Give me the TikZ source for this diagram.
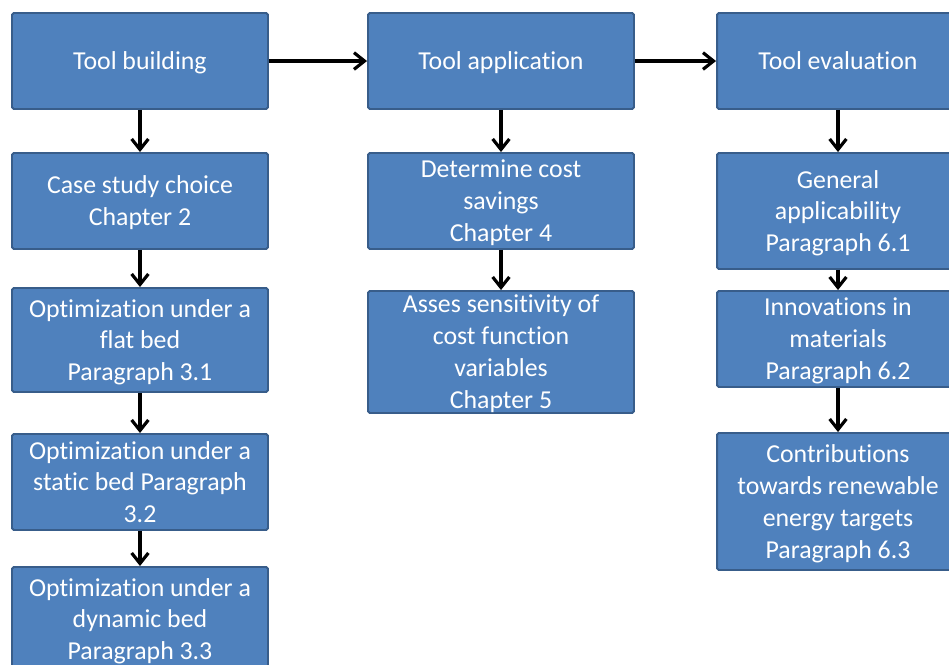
\documentclass[tikz,border=0pt]{standalone}
\usepackage{fontspec}
\setmainfont{Carlito}[Ligatures=NoCommon]
\usetikzlibrary{arrows.meta}

\definecolor{boxfill}{HTML}{4F81BD}
\definecolor{boxline}{HTML}{385D8A}

\begin{document}
\begin{tikzpicture}[x=0.02cm, y=-0.02cm,
      blk/.style={draw=boxline, fill=boxfill, line width=1.1pt, rounded corners=1pt,
                  text=white, align=center, inner sep=0pt, text depth=0pt,
                  font=\fontsize{14.7}{18.2}\selectfont},
      arr/.style={-{Straight Barb[length=6pt,width=9.5pt]}, line width=1.8pt, black}]

    % ---- Layout (pixel grid) ----
    \def\cA{140}   % column 1 x
    \def\cB{501}   % column 2 x
    \def\cC{838}   % column 3 x
    \clip (0,0) rectangle (949,664);

    % ---- Top row ----
    \node[blk, minimum width=5.12cm, minimum height=1.92cm] (tb) at (\cA, 61) {Tool building};
    \node[blk, minimum width=5.32cm, minimum height=1.92cm] (ta) at (\cB, 61) {Tool application};
    \node[blk, minimum width=4.84cm, minimum height=1.92cm] (te) at (\cC, 61) {Tool evaluation};

    % ---- Column 1: building ----
    \node[blk, minimum width=5.12cm, minimum height=1.92cm] (cs) at (\cA, 201) {Case study choice\\Chapter 2};
    \node[blk, minimum width=5.12cm, minimum height=2.08cm] (of) at (\cA, 340) {Optimization under a\\flat bed\\Paragraph 3.1};
    \node[blk, minimum width=5.12cm, minimum height=1.92cm] (os) at (\cA, 482) {Optimization under a\\static bed Paragraph\\3.2};
    \node[blk, minimum width=5.12cm, minimum height=2.08cm] (od) at (\cA, 619) {Optimization under a\\dynamic bed\\Paragraph 3.3};

    % ---- Column 2: application ----
    \node[blk, minimum width=5.32cm, minimum height=1.92cm] (dc) at (\cB, 201) {Determine cost\\savings\\Chapter 4};
    \node[blk, minimum width=5.32cm, minimum height=2.44cm] (as) at (\cB, 352) {Asses sensitivity of\\cost function\\variables\\Chapter 5};

    % ---- Column 3: evaluation ----
    \node[blk, minimum width=4.84cm, minimum height=2.32cm] (ga) at (\cC, 211) {General\\applicability\\Paragraph 6.1};
    \node[blk, minimum width=4.84cm, minimum height=1.92cm] (im) at (\cC, 339) {Innovations in\\materials\\Paragraph 6.2};
    \node[blk, minimum width=4.84cm, minimum height=2.74cm] (ct) at (\cC, 501.5) {Contributions\\towards renewable\\energy targets\\Paragraph 6.3};

    % ---- Connectors ----
    \draw[arr] (tb) -- (ta);
    \draw[arr] (ta) -- (te);
    \draw[arr] (tb) -- (cs);
    \draw[arr] (cs) -- (of);
    \draw[arr] (of) -- (os);
    \draw[arr] (os) -- (od);
    \draw[arr] (ta) -- (dc);
    \draw[arr] (dc) -- (as);
    \draw[arr] (te) -- (ga);
    \draw[arr] (ga) -- (im);
    \draw[arr] (im) -- (ct);

\end{tikzpicture}
\end{document}
